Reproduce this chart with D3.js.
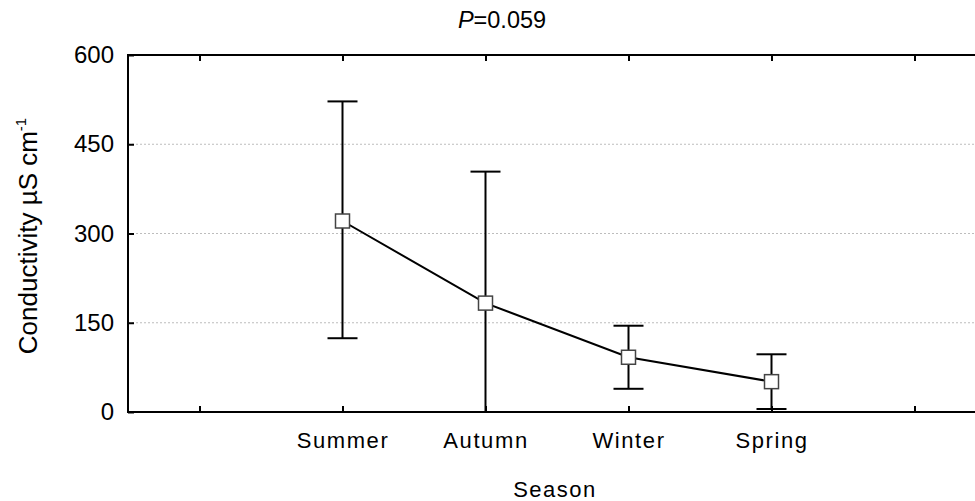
<!DOCTYPE html>
<html>
<head>
<meta charset="utf-8">
<script src="https://cdn.jsdelivr.net/npm/d3@7"></script>
<style>
  body { margin: 0; background: #fff; }
  svg { display: block; font-family: "Liberation Sans", Arial, sans-serif; }
</style>
</head>
<body>
<div id="chart"></div>
<script>
// data
const seasons = ["Summer", "Autumn", "Winter", "Spring"];
const meanVals = [321, 183, 92, 51];
const upperVals = [522, 404, 145, 97];
const lowerVals = [124, 0, 39, 5];
const yTicks = [0, 150, 300, 450, 600];

const width = 975, height = 501;
const plotL = 128, plotR = 986, plotT = 55, plotB = 412;

const svg = d3.select("#chart")
    .append("svg")
    .attr("width", width)
    .attr("height", height);

// empty slots on both ends, like the original
const xDomain = ["_a", ...seasons, "_b"];
const x = d3.scalePoint()
    .domain(xDomain)
    .range([plotL, plotR])
    .padding(0.5);

const y = d3.scaleLinear()
    .domain([0, 600])
    .range([plotB, plotT]);

// grid lines
svg.append("g")
    .selectAll("line")
    .data(yTicks.filter(d => d > 0 && d < 600))
    .enter()
    .append("line")
    .attr("x1", plotL)
    .attr("x2", plotR)
    .attr("y1", d => y(d))
    .attr("y2", d => y(d))
    .attr("stroke", "#bdbdbd")
    .attr("stroke-width", 1)
    .attr("stroke-dasharray", "2,2");

// axes, ticks pointing inward
const yAxis = svg.append("g")
    .attr("transform", "translate(" + plotL + ",0)")
    .call(d3.axisLeft(y).tickValues(yTicks).tickSize(-6).tickPadding(14));

const xAxis = svg.append("g")
    .attr("transform", "translate(0," + plotB + ")")
    .call(d3.axisBottom(x).tickSize(-6).tickPadding(20)
        .tickFormat(d => d.startsWith("_") ? "" : d));

const xTop = svg.append("g")
    .attr("transform", "translate(0," + plotT + ")")
    .call(d3.axisTop(x).tickSize(-6).tickFormat(""));

const yRight = svg.append("g")
    .attr("transform", "translate(" + plotR + ",0)")
    .call(d3.axisRight(y).tickValues(yTicks).tickSize(-6).tickFormat(""));

[yAxis, xAxis, xTop, yRight].forEach(g => {
    g.select(".domain").remove();
    g.selectAll(".tick line").attr("stroke", "#000").attr("stroke-width", 2);
});

yAxis.selectAll("text")
    .attr("font-size", 24)
    .attr("fill", "#000")
    .attr("font-family", "Liberation Sans, Arial, sans-serif");

xAxis.selectAll("text")
    .attr("font-size", 22)
    .attr("letter-spacing", 1.6)
    .attr("fill", "#000")
    .attr("font-family", "Liberation Sans, Arial, sans-serif");

// frame
svg.append("rect")
    .attr("x", plotL)
    .attr("y", plotT)
    .attr("width", plotR - plotL)
    .attr("height", plotB - plotT)
    .attr("fill", "none")
    .attr("stroke", "#000")
    .attr("stroke-width", 2);

const points = seasons.map((s, i) => ({
    season: s, mean: meanVals[i], hi: upperVals[i], lo: lowerVals[i]
}));

// error bars
const capW = 15;
const bars = svg.append("g")
    .selectAll("g")
    .data(points)
    .enter()
    .append("g")
    .attr("stroke", "#000")
    .attr("stroke-width", 2);

bars.append("line")
    .attr("x1", d => x(d.season))
    .attr("x2", d => x(d.season))
    .attr("y1", d => y(d.hi))
    .attr("y2", d => y(d.lo));

bars.append("line")
    .attr("x1", d => x(d.season) - capW)
    .attr("x2", d => x(d.season) + capW)
    .attr("y1", d => y(d.hi))
    .attr("y2", d => y(d.hi));

bars.filter(d => d.lo > 0)
    .append("line")
    .attr("x1", d => x(d.season) - capW)
    .attr("x2", d => x(d.season) + capW)
    .attr("y1", d => y(d.lo))
    .attr("y2", d => y(d.lo));

// mean line
const line = d3.line()
    .x(d => x(d.season))
    .y(d => y(d.mean));

svg.append("path")
    .datum(points)
    .attr("d", line)
    .attr("fill", "none")
    .attr("stroke", "#000")
    .attr("stroke-width", 2);

// square markers
const sq = 14;
svg.append("g")
    .selectAll("rect")
    .data(points)
    .enter()
    .append("rect")
    .attr("x", d => x(d.season) - sq / 2)
    .attr("y", d => y(d.mean) - sq / 2)
    .attr("width", sq)
    .attr("height", sq)
    .attr("fill", "#fff")
    .attr("stroke", "#444")
    .attr("stroke-width", 1.5);

// title
const title = svg.append("text")
    .attr("x", 502)
    .attr("y", 28)
    .attr("text-anchor", "middle")
    .attr("font-size", 23.5);
title.append("tspan").attr("font-style", "italic").text("P");
title.append("tspan").text("=0.059");

// axis titles
svg.append("text")
    .attr("x", (plotL + plotR) / 2 - 2)
    .attr("y", 497)
    .attr("text-anchor", "middle")
    .attr("font-size", 22)
    .attr("letter-spacing", 1.5)
    .text("Season");

const yLab = svg.append("text")
    .attr("transform", "translate(37,236) rotate(-90)")
    .attr("text-anchor", "middle")
    .attr("font-size", 26);
yLab.append("tspan").text("Conductivity \u00b5S cm");
yLab.append("tspan")
    .attr("font-size", 15)
    .attr("dy", -11)
    .text("-1");
</script>
</body>
</html>
